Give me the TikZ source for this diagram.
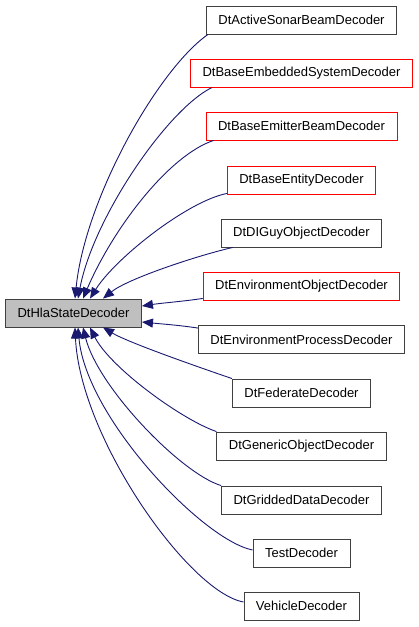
\documentclass[tikz,border=0pt]{standalone}
\usepackage{fontspec}
\setmainfont{Liberation Sans}
\usetikzlibrary{arrows,arrows.meta}
\definecolor{edgeblue}{RGB}{25,25,112}
\definecolor{basegray}{RGB}{191,191,191}
\definecolor{boxline}{RGB}{64,64,64}

\begin{document}
\begin{tikzpicture}[x=1pt,y=-1pt,
  cls/.style={draw=boxline,line width=0.9pt,inner xsep=12pt,inner ysep=0pt,
    minimum height=28pt,font=\fontsize{13}{15}\selectfont},
  redcls/.style={cls,draw=red},
  inherit/.style={draw=edgeblue,line width=0.9pt,-{Triangle[length=11pt,width=9pt]}}]
 \useasboundingbox (0,0) rectangle (419,627);
 \node[cls,fill=basegray] (hla) at (73.5,313) {DtHlaStateDecoder};
 \node[cls] (sonar) at (301.5,20) {DtActiveSonarBeamDecoder};
 \node[redcls] (embedded) at (301.5,73) {DtBaseEmbeddedSystemDecoder};
 \node[redcls] (emitter) at (301.5,126) {DtBaseEmitterBeamDecoder};
 \node[redcls] (entity) at (301.5,180) {DtBaseEntityDecoder};
 \node[cls] (diguy) at (301.5,233) {DtDIGuyObjectDecoder};
 \node[redcls] (envobj) at (301.5,286) {DtEnvironmentObjectDecoder};
 \node[cls] (envproc) at (301.5,339.5) {DtEnvironmentProcessDecoder};
 \node[cls] (federate) at (301.5,393) {DtFederateDecoder};
 \node[cls] (generic) at (301.5,446) {DtGenericObjectDecoder};
 \node[cls] (gridded) at (301.5,500) {DtGriddedDataDecoder};
 \node[cls] (test) at (301.5,553) {TestDecoder};
 \node[cls] (vehicle) at (301.5,606) {VehicleDecoder};
 % upper children
 \draw[inherit] ([xshift=2pt]sonar.south west) .. controls +(-50,35) and +(10,-100) .. ([xshift=1.5pt]hla.north);
 \draw[inherit] ([xshift=22pt]embedded.south west) .. controls +(-45,22) and +(15,-80) .. ([xshift=4.5pt]hla.north);
 \draw[inherit] ([xshift=8pt]emitter.south west) .. controls +(-45,15) and +(30,-70) .. ([xshift=9.5pt]hla.north);
 \draw[inherit] ([yshift=1pt]entity.south west) .. controls +(-40,8) and +(25,-40) .. ([xshift=16.5pt]hla.north);
 \draw[inherit] ([xshift=12pt]diguy.south west) .. controls +(-35,8) and +(25,-20) .. ([xshift=29.5pt]hla.north);
 \draw[inherit] ([yshift=2pt]envobj.south west) .. controls +(-20,3) and +(20,-3) .. ([yshift=7pt]hla.east);
 \draw[inherit] ([yshift=-3pt]envproc.north west) .. controls +(-20,-3) and +(20,2) .. ([yshift=-9pt]hla.east);
 % lower children
 \draw[inherit] (federate.north west) .. controls +(-35,-12) and +(25,15) .. ([xshift=29.5pt]hla.south);
 \draw[inherit] (generic.north west) .. controls +(-35,-12) and +(20,40) .. ([xshift=16.5pt]hla.south);
 \draw[inherit] (gridded.north west) .. controls +(-40,-12) and +(15,60) .. ([xshift=9.5pt]hla.south);
 \draw[inherit] ([yshift=3pt]test.west) .. controls +(-50,-10) and +(8,90) .. ([xshift=4.5pt]hla.south);
 \draw[inherit] ([yshift=4pt]vehicle.west) .. controls +(-55,-10) and +(5,110) .. ([xshift=1.5pt]hla.south);
\end{tikzpicture}
\end{document}
